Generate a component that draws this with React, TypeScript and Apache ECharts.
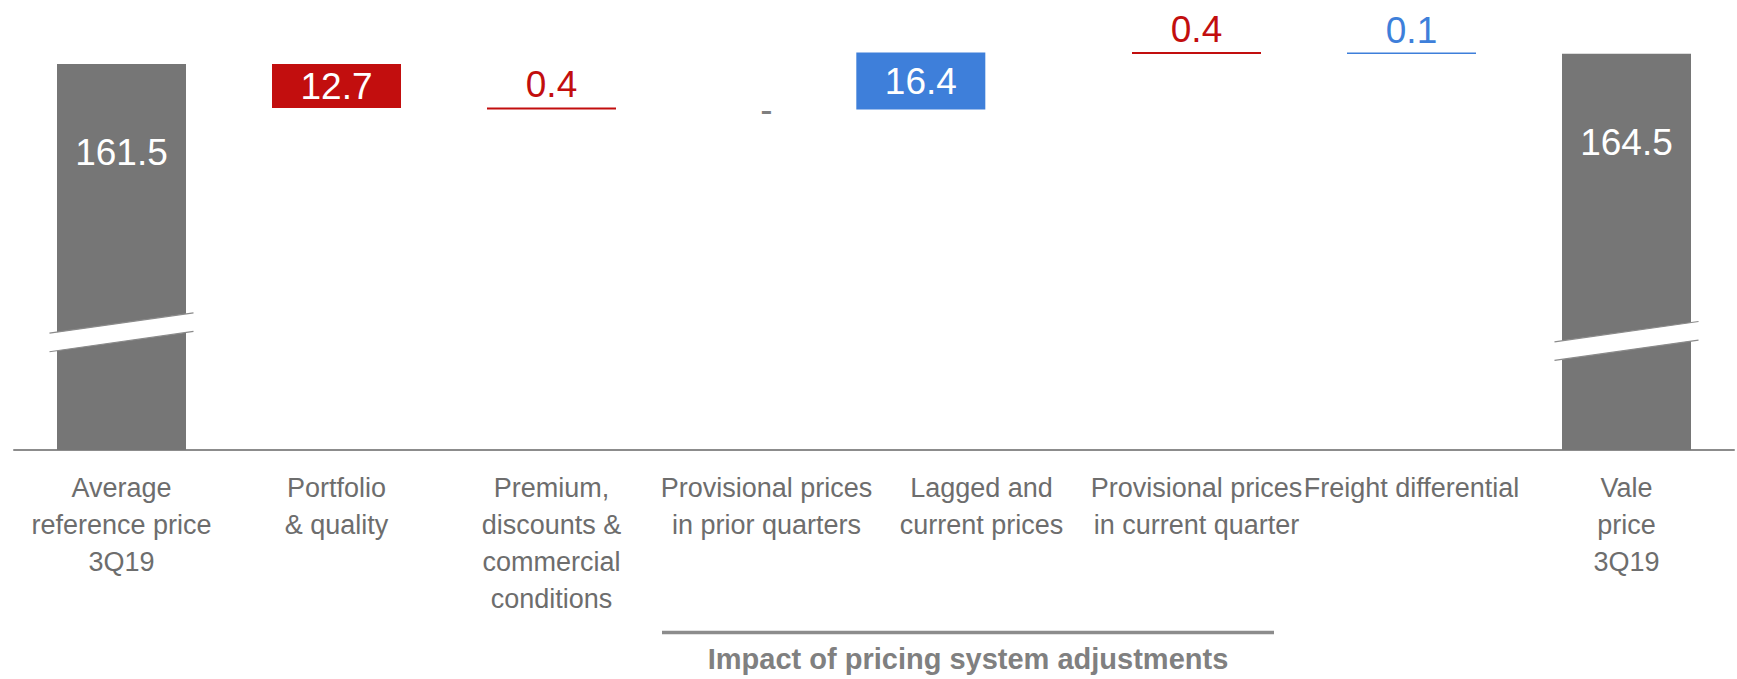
import React, { useEffect, useRef } from 'react';
import * as echarts from 'echarts';

// ---------- data ----------
const categories: string[] = [
  'Average\nreference price\n3Q19',
  'Portfolio\n& quality',
  'Premium,\ndiscounts &\ncommercial\nconditions',
  'Provisional prices\nin prior quarters',
  'Lagged and\ncurrent prices',
  'Provisional prices\nin current quarter',
  'Freight differential',
  'Vale\nprice\n3Q19',
];
const totals: (number | null)[] = [161.5, null, null, null, null, null, null, 164.5];
const deltas: (number | null)[] = [null, -12.7, -0.4, 0, 16.4, -0.4, 0.1, null];
const groupLabel = 'Impact of pricing system adjustments';

// ---------- layout / style constants ----------
const AXIS_MIN = 50;
const AXIS_MAX = 180;
const SHIFTED_INDEX = 4; // the 16.4 box sits left of its slot in the original
const SHIFTED_GRID_RIGHT = 100; // second grid (left 0) puts that slot's centre ~61px to the left
const BREAK_LEVELS: Record<number, number> = { 0: 84, 7: 81.5 };
const FONT = "'Liberation Sans', Arial, Helvetica, sans-serif";
const GRAY = '#767676';
const RED = '#C20E0E';
const BLUE = '#3E7FDA';
const AXIS_GRAY = '#8c8c8c';

// ---------- waterfall build ----------
const base: any[] = [];
const down: any[] = [];
const up: any[] = [];
const zero: any[] = [];
const base1: any[] = [];
const up1: any[] = [];
let level = 0;
categories.forEach((_, i) => {
  const t = totals[i];
  if (t != null) {
    level = t;
    base.push('-'); down.push('-'); up.push('-'); zero.push('-'); base1.push('-'); up1.push('-');
    return;
  }
  const d = deltas[i] as number;
  const next = level + d;
  const b = Math.min(level, next);
  const small = Math.abs(d) < 1;
  const lbl = small
    ? { position: 'top', distance: 4, color: d < 0 ? RED : BLUE }
    : { position: 'inside', color: '#fff' };
  if (i === SHIFTED_INDEX) {
    base.push('-'); down.push('-'); up.push('-'); zero.push('-');
    base1.push(b);
    up1.push(d > 0 ? { value: d, label: lbl } : '-');
  } else {
    base.push(b);
    base1.push('-'); up1.push('-');
    down.push(d < 0 ? { value: -d, label: lbl } : '-');
    up.push(d > 0 ? { value: d, label: lbl } : '-');
    zero.push(d === 0 ? 0 : '-');
  }
  level = next;
});

const deltaFmt = (p: any) => Math.abs(deltas[p.dataIndex] as number).toFixed(1);

export default function App() {
  const ref = useRef<HTMLDivElement>(null);
  useEffect(() => {
    if (!ref.current) return;
    const chart = echarts.init(ref.current, null, { renderer: 'svg' });
    const valueLabel = { fontFamily: FONT, fontSize: 37 };
    const option: any = {
      animation: false,
      backgroundColor: '#fff',
      grid: [
        { left: 14, right: 3, top: 0, bottom: 229 },
        { left: 0, right: SHIFTED_GRID_RIGHT, top: 0, bottom: 229 },
      ],
      xAxis: [
        {
          type: 'category',
          gridIndex: 0,
          data: categories,
          axisLine: { lineStyle: { color: AXIS_GRAY, width: 2 } },
          axisTick: { length: 10, lineStyle: { color: AXIS_GRAY, width: 1.5 } },
          axisLabel: {
            interval: 0,
            margin: 19,
            fontFamily: FONT,
            fontSize: 27,
            lineHeight: 37,
            color: '#6d6d6d',
          },
        },
        { type: 'category', gridIndex: 1, data: categories, show: false },
      ],
      yAxis: [
        { type: 'value', gridIndex: 0, min: AXIS_MIN, max: AXIS_MAX, show: false, splitLine: { show: false } },
        { type: 'value', gridIndex: 1, min: AXIS_MIN, max: AXIS_MAX, show: false, splitLine: { show: false } },
      ],
      series: [
        {
          name: 'base', type: 'bar', stack: 'w', barWidth: '60%', silent: true,
          itemStyle: { color: 'transparent' }, data: base,
        },
        {
          name: 'total', type: 'bar', stack: 'w', barWidth: '60%',
          itemStyle: { color: GRAY },
          label: { show: true, position: 'insideTop', distance: 70, color: '#fff', ...valueLabel,
            formatter: (p: any) => (totals[p.dataIndex] as number).toFixed(1) },
          data: totals.map((v) => (v == null ? '-' : v)),
        },
        {
          name: 'decrease', type: 'bar', stack: 'w', barWidth: '60%', barMinHeight: 2,
          itemStyle: { color: RED },
          label: { show: true, ...valueLabel, formatter: deltaFmt },
          data: down,
        },
        {
          name: 'increase', type: 'bar', stack: 'w', barWidth: '60%', barMinHeight: 1.5,
          itemStyle: { color: BLUE },
          label: { show: true, ...valueLabel, formatter: deltaFmt },
          data: up,
        },
        {
          name: 'none', type: 'bar', stack: 'w', barWidth: '60%',
          itemStyle: { color: 'transparent' },
          label: { show: true, position: 'inside', color: '#7f7f7f', ...valueLabel, formatter: () => '-' },
          data: zero,
        },
        {
          name: 'base1', type: 'bar', stack: 'v', xAxisIndex: 1, yAxisIndex: 1, barWidth: 129, silent: true,
          itemStyle: { color: 'transparent' }, data: base1,
        },
        {
          name: 'increase1', type: 'bar', stack: 'v', xAxisIndex: 1, yAxisIndex: 1, barWidth: 129,
          itemStyle: { color: BLUE },
          label: { show: true, ...valueLabel, formatter: deltaFmt },
          data: up1,
        },
      ],
    };
    chart.setOption(option);

    // axis-break marks and the bracket annotation
    const x0 = chart.convertToPixel({ xAxisIndex: 0 }, 0) as number;
    const x1 = chart.convertToPixel({ xAxisIndex: 0 }, 1) as number;
    const cw = x1 - x0;
    const half = cw * 0.335;
    const slope = 0.141;
    const th = 9.3;
    const graphics: any[] = [];
    Object.keys(BREAK_LEVELS).forEach((k) => {
      const idx = Number(k);
      const cx = chart.convertToPixel({ xAxisIndex: 0 }, idx) as number;
      const cy = chart.convertToPixel({ yAxisIndex: 0 }, BREAK_LEVELS[idx]) as number;
      const ul = [cx - half, cy - th + slope * half];
      const ur = [cx + half, cy - th - slope * half];
      const lr = [cx + half, cy + th - slope * half];
      const ll = [cx - half, cy + th + slope * half];
      graphics.push({ type: 'polygon', z: 100, shape: { points: [ul, ur, lr, ll] }, style: { fill: '#fff' } });
      graphics.push({ type: 'line', z: 101, shape: { x1: ul[0], y1: ul[1], x2: ur[0], y2: ur[1] }, style: { stroke: '#8a8a8a', lineWidth: 1.2 } });
      graphics.push({ type: 'line', z: 101, shape: { x1: ll[0], y1: ll[1], x2: lr[0], y2: lr[1] }, style: { stroke: '#8a8a8a', lineWidth: 1.2 } });
    });
    graphics.push({ type: 'line', z: 100, shape: { x1: 662, y1: 632.5, x2: 1274, y2: 632.5 }, style: { stroke: '#8c8c8c', lineWidth: 3.5 } });
    graphics.push({
      type: 'text', z: 100, x: 968, y: 659,
      style: { text: groupLabel, fontFamily: FONT, fontSize: 29, fontWeight: 'bold', fill: '#808080', align: 'center', verticalAlign: 'middle' },
    });
    chart.setOption({ graphic: graphics });

    return () => chart.dispose();
  }, []);
  return <div ref={ref} style={{ position: 'fixed', left: 0, top: 0, width: 1737, height: 679 }} />;
}
